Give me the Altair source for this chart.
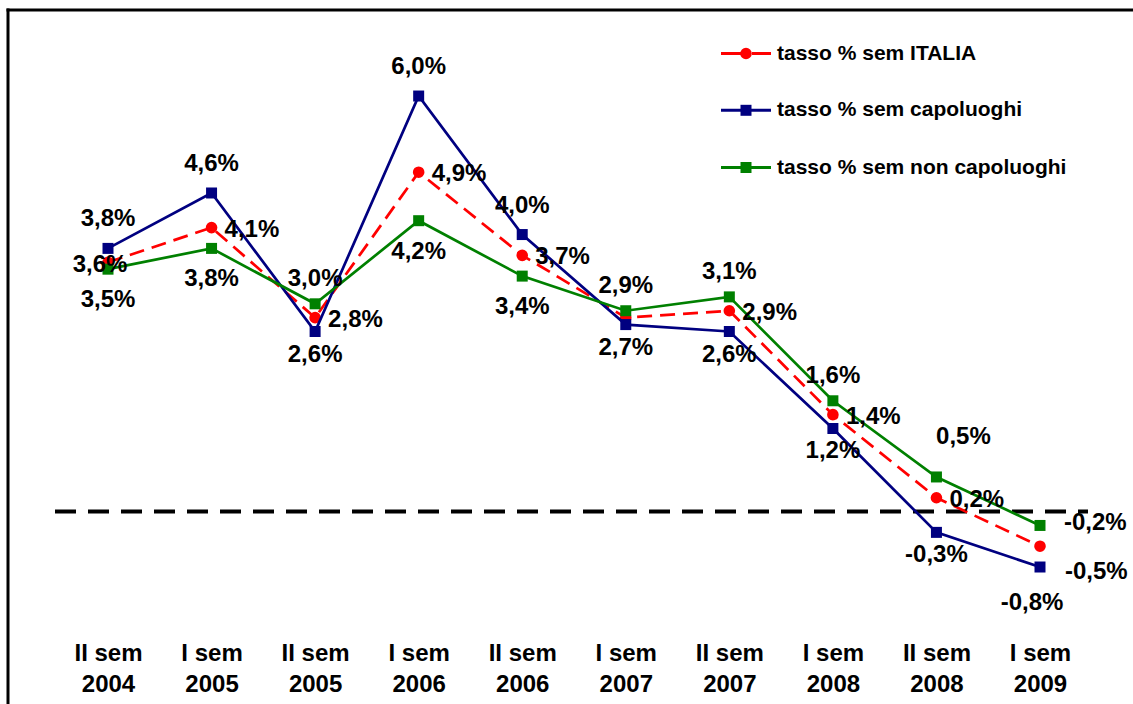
import altair as alt
import pandas as pd

# Half-year periods ("|" marks the line break in the axis label)
periods = [
    "II sem|2004", "I sem|2005", "II sem|2005", "I sem|2006", "II sem|2006",
    "I sem|2007", "II sem|2007", "I sem|2008", "II sem|2008", "I sem|2009",
]

series_names = [
    "tasso % sem ITALIA",
    "tasso % sem capoluoghi",
    "tasso % sem non capoluoghi",
]

# Half-year growth rates (%)
italia = [3.6, 4.1, 2.8, 4.9, 3.7, 2.8, 2.9, 1.4, 0.2, -0.5]
capoluoghi = [3.8, 4.6, 2.6, 6.0, 4.0, 2.7, 2.6, 1.2, -0.3, -0.8]
non_capoluoghi = [3.5, 3.8, 3.0, 4.2, 3.4, 2.9, 3.1, 1.6, 0.5, -0.2]

# Where each value label sits around its marker (None = no label)
italia_pos = ["center_left", "right", "right", "right", "right", None,
              "right", "right", "right", "lower_right"]
capoluoghi_pos = ["above", "above", "below", "above", "above", "below",
                  "below", "below", "below", "below_left"]
non_capoluoghi_pos = ["below_far", "below_far", "above_near", "below_far", "below_far",
                      "above_near", "above_near", "above_near", "upper_right", "right_far"]

# Label placement styles: (align, dx, dy)
PLACEMENTS = {
    "above": ("center", 0, -29),
    "above_near": ("center", 0, -25),
    "below": ("center", 0, 23),
    "below_far": ("center", 0, 31),
    "below_left": ("center", -8, 36),
    "right": ("left", 13, 2),
    "right_far": ("left", 24, -2),
    "lower_right": ("left", 25, 26),
    "upper_right": ("center", 27, -40),
    "center_left": ("center", -8, 3),
}

STYLES = [
    {"color": "#FF0000", "dash": [15, 8], "shape": "circle"},
    {"color": "#000080", "dash": None, "shape": "square"},
    {"color": "#008000", "dash": None, "shape": "square"},
]

FONT = "Liberation Sans"
W, H = 1125, 620

rows = []
for name, vals, poss in zip(series_names, [italia, capoluoghi, non_capoluoghi],
                            [italia_pos, capoluoghi_pos, non_capoluoghi_pos]):
    for p, v, pos in zip(periods, vals, poss):
        rows.append({
            "period": p,
            "series": name,
            "value": v,
            "label": f"{v:.1f}".replace(".", ",") + "%",
            "pos": pos if pos else "none",
        })
df = pd.DataFrame(rows)

x_enc = alt.X(
    "period:N",
    scale=alt.Scale(type="point", domain=periods, range=[100, 1032], padding=0),
    axis=alt.Axis(
        title=None, labelExpr="split(datum.label, '|')", domain=False, ticks=False,
        labelPadding=11, labelFontSize=24, labelFont=FONT, labelFontWeight="bold",
        labelColor="black", labelLineHeight=31, labelAngle=0, labelOverlap=False,
        grid=False,
    ),
)
y_enc = alt.Y(
    "value:Q",
    scale=alt.Scale(domain=[-1.7095, 7.242], nice=False, zero=False),
    axis=None,
)

base = alt.Chart(df)
layers = []

# Zero reference line
layers.append(
    alt.Chart(pd.DataFrame({"value": [0.0]}))
    .mark_rule(color="black", strokeWidth=4, strokeDash=[21, 12])
    .encode(y=y_enc, x=alt.value(47), x2=alt.value(1080))
)

# Series lines with markers
for name, st in zip(series_names, STYLES):
    sub = base.transform_filter(alt.datum.series == name)
    line_kw = {"color": st["color"], "strokeWidth": 2.7}
    if st["dash"]:
        line_kw["strokeDash"] = st["dash"]
    layers.append(sub.mark_line(**line_kw).encode(x=x_enc, y=y_enc))
    layers.append(
        sub.mark_point(shape=st["shape"], filled=True,
                       size=135 if st["shape"] == "circle" else 121, opacity=1,
                       color=st["color"])
        .encode(x=x_enc, y=y_enc)
    )

# Value labels
for code, (align, dx, dy) in PLACEMENTS.items():
    layers.append(
        base.transform_filter(alt.datum.pos == code)
        .mark_text(align=align, baseline="middle", dx=dx, dy=dy, font=FONT,
                   fontSize=24, fontWeight="bold", color="black")
        .encode(x=x_enc, y=y_enc, text="label:N")
    )

# Legend
legend_y = [43.5, 100.3, 157.5]
for name, st, ly in zip(series_names, STYLES, legend_y):
    ldata = alt.Chart(pd.DataFrame({"name": [name]}))
    rule_kw = {"color": st["color"], "strokeWidth": 3}
    if st["dash"]:
        rule_kw["strokeDash"] = [20, 11]
    layers.append(
        ldata.mark_rule(**rule_kw)
        .encode(x=alt.value(713), x2=alt.value(763), y=alt.value(ly))
    )
    layers.append(
        ldata.mark_point(shape=st["shape"], filled=True,
                         size=135 if st["shape"] == "circle" else 121, opacity=1,
                         color=st["color"])
        .encode(x=alt.value(738), y=alt.value(ly))
    )
    layers.append(
        ldata.mark_text(align="left", baseline="middle", font=FONT, fontSize=21,
                        fontWeight="bold", color="black")
        .encode(x=alt.value(769), y=alt.value(ly), text="name:N")
    )

# Frame (top and left edges)
frame = alt.Chart(pd.DataFrame({"f": [0]}))
layers.append(
    frame.mark_rule(color="black", strokeWidth=3, strokeCap="square")
    .encode(x=alt.value(0), x2=alt.value(W + 10), y=alt.value(0))
)
layers.append(
    frame.mark_rule(color="black", strokeWidth=3, strokeCap="square")
    .encode(x=alt.value(0), y=alt.value(0), y2=alt.value(H + 90))
)

chart = (
    alt.layer(*layers)
    .properties(
        width=W,
        height=H,
        autosize=alt.AutoSizeParams(type="none"),
        padding={"left": 8, "top": 10, "right": 0, "bottom": 74},
        background="white",
    )
    .configure_view(stroke=None)
)

chart.save("out.html", embed_options={"renderer": "svg", "actions": False})
